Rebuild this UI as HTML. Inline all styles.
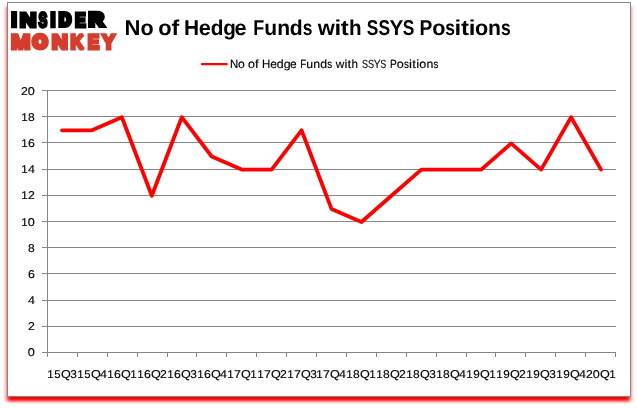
<!DOCTYPE html>
<html lang="en">
<head>
<meta charset="utf-8">
<title>No of Hedge Funds with SSYS Positions</title>
<style>
html,body{margin:0;padding:0;background:#fff;}
body{width:637px;height:408px;overflow:hidden;position:relative;font-family:"Liberation Sans",sans-serif;}
svg{position:absolute;left:0;top:0;}
text{font-family:"Liberation Sans",sans-serif;fill:#000;font-kerning:none;text-rendering:geometricPrecision;stroke:#000;stroke-width:0.15px;}
.t{font-weight:bold;stroke:none;}
.a{stroke-width:0.15px;}
.logo{font-family:"Liberation Sans",sans-serif;font-weight:bold;}
</style>
</head>
<body>
<svg width="637" height="408" viewBox="0 0 637 408">
<defs><filter id="sh" x="-5%" y="-5%" width="110%" height="110%"><feGaussianBlur stdDeviation="2.1 1.50"/></filter></defs>
<rect x="7" y="6.30" width="623.2" height="395" fill="#ff0000" filter="url(#sh)"/>
<rect x="7.5" y="2.5" width="623" height="394" fill="#ffffff" stroke="#858585" stroke-width="1"/>

<g stroke="#868686" stroke-width="1" fill="none" shape-rendering="crispEdges">
<line x1="42.0" y1="352.5" x2="616.0" y2="352.5"/>
<line x1="42.0" y1="326.5" x2="616.0" y2="326.5"/>
<line x1="42.0" y1="300.5" x2="616.0" y2="300.5"/>
<line x1="42.0" y1="273.5" x2="616.0" y2="273.5"/>
<line x1="42.0" y1="247.5" x2="616.0" y2="247.5"/>
<line x1="42.0" y1="221.5" x2="616.0" y2="221.5"/>
<line x1="42.0" y1="195.5" x2="616.0" y2="195.5"/>
<line x1="42.0" y1="169.5" x2="616.0" y2="169.5"/>
<line x1="42.0" y1="142.5" x2="616.0" y2="142.5"/>
<line x1="42.0" y1="116.5" x2="616.0" y2="116.5"/>
<line x1="42.0" y1="90.5" x2="616.0" y2="90.5"/>
<line x1="47.5" y1="90.5" x2="47.5" y2="352.5"/>
<line x1="47.5" y1="352.5" x2="47.5" y2="357.0"/>
<line x1="77.5" y1="352.5" x2="77.5" y2="357.0"/>
<line x1="107.5" y1="352.5" x2="107.5" y2="357.0"/>
<line x1="137.5" y1="352.5" x2="137.5" y2="357.0"/>
<line x1="167.5" y1="352.5" x2="167.5" y2="357.0"/>
<line x1="196.5" y1="352.5" x2="196.5" y2="357.0"/>
<line x1="226.5" y1="352.5" x2="226.5" y2="357.0"/>
<line x1="256.5" y1="352.5" x2="256.5" y2="357.0"/>
<line x1="286.5" y1="352.5" x2="286.5" y2="357.0"/>
<line x1="316.5" y1="352.5" x2="316.5" y2="357.0"/>
<line x1="346.5" y1="352.5" x2="346.5" y2="357.0"/>
<line x1="376.5" y1="352.5" x2="376.5" y2="357.0"/>
<line x1="406.5" y1="352.5" x2="406.5" y2="357.0"/>
<line x1="436.5" y1="352.5" x2="436.5" y2="357.0"/>
<line x1="466.5" y1="352.5" x2="466.5" y2="357.0"/>
<line x1="495.5" y1="352.5" x2="495.5" y2="357.0"/>
<line x1="525.5" y1="352.5" x2="525.5" y2="357.0"/>
<line x1="555.5" y1="352.5" x2="555.5" y2="357.0"/>
<line x1="585.5" y1="352.5" x2="585.5" y2="357.0"/>
<line x1="615.5" y1="352.5" x2="615.5" y2="357.0"/>
</g>
<polyline points="61.97,130.30 91.92,130.30 121.87,117.20 151.82,195.80 181.76,117.20 211.71,156.50 241.66,169.60 271.61,169.60 301.55,130.30 331.50,208.90 361.45,222.00 391.39,195.80 421.34,169.60 451.29,169.60 481.24,169.60 511.18,143.40 541.13,169.60 571.08,117.20 601.03,169.60" fill="none" stroke="#ff0000" stroke-width="3.80" stroke-linejoin="round" stroke-linecap="round"/>
<line x1="201.9" y1="64.2" x2="226.8" y2="64.2" stroke="#ff0000" stroke-width="2.2" stroke-linecap="round"/>
<text  y="67.90" font-size="11.90"><tspan x="229.97" textLength="8.22" lengthAdjust="spacingAndGlyphs">N</tspan><tspan x="238.13" textLength="6.79" lengthAdjust="spacingAndGlyphs">o</tspan> <tspan x="247.97" textLength="6.98" lengthAdjust="spacingAndGlyphs">o</tspan><tspan x="254.97" textLength="3.70" lengthAdjust="spacingAndGlyphs">f</tspan> <tspan x="262.06" textLength="8.29" lengthAdjust="spacingAndGlyphs">H</tspan><tspan x="270.29" textLength="6.64" lengthAdjust="spacingAndGlyphs">e</tspan><tspan x="276.84" textLength="6.83" lengthAdjust="spacingAndGlyphs">d</tspan><tspan x="283.70" textLength="6.88" lengthAdjust="spacingAndGlyphs">g</tspan><tspan x="289.99" textLength="6.64" lengthAdjust="spacingAndGlyphs">e</tspan> <tspan x="300.29" textLength="6.01" lengthAdjust="spacingAndGlyphs">F</tspan><tspan x="306.30" textLength="6.87" lengthAdjust="spacingAndGlyphs">u</tspan><tspan x="313.34" textLength="6.87" lengthAdjust="spacingAndGlyphs">n</tspan><tspan x="320.17" textLength="6.86" lengthAdjust="spacingAndGlyphs">d</tspan><tspan x="327.35" textLength="4.91" lengthAdjust="spacingAndGlyphs">s</tspan> <tspan x="335.72" textLength="8.61" lengthAdjust="spacingAndGlyphs">w</tspan><tspan x="344.42" textLength="2.96" lengthAdjust="spacingAndGlyphs">i</tspan><tspan x="347.52" textLength="3.70" lengthAdjust="spacingAndGlyphs">t</tspan><tspan x="351.58" textLength="6.48" lengthAdjust="spacingAndGlyphs">h</tspan> <tspan x="361.89" textLength="6.00" lengthAdjust="spacingAndGlyphs">S</tspan><tspan x="367.88" textLength="6.00" lengthAdjust="spacingAndGlyphs">S</tspan><tspan x="373.70" textLength="6.80" lengthAdjust="spacingAndGlyphs">Y</tspan><tspan x="380.21" textLength="6.00" lengthAdjust="spacingAndGlyphs">S</tspan> <tspan x="390.06" textLength="6.84" lengthAdjust="spacingAndGlyphs">P</tspan><tspan x="396.72" textLength="7.06" lengthAdjust="spacingAndGlyphs">o</tspan><tspan x="403.91" textLength="4.89" lengthAdjust="spacingAndGlyphs">s</tspan><tspan x="408.93" textLength="2.96" lengthAdjust="spacingAndGlyphs">i</tspan><tspan x="412.23" textLength="3.70" lengthAdjust="spacingAndGlyphs">t</tspan><tspan x="416.38" textLength="2.96" lengthAdjust="spacingAndGlyphs">i</tspan><tspan x="419.33" textLength="7.06" lengthAdjust="spacingAndGlyphs">o</tspan><tspan x="426.43" textLength="6.84" lengthAdjust="spacingAndGlyphs">n</tspan><tspan x="433.46" textLength="4.89" lengthAdjust="spacingAndGlyphs">s</tspan></text>
<text class="t" y="34.70" font-size="21.50"><tspan x="124.62" textLength="15.93" lengthAdjust="spacingAndGlyphs">N</tspan><tspan x="140.39" textLength="13.15" lengthAdjust="spacingAndGlyphs">o</tspan> <tspan x="158.35" textLength="13.34" lengthAdjust="spacingAndGlyphs">o</tspan><tspan x="171.41" textLength="7.74" lengthAdjust="spacingAndGlyphs">f</tspan> <tspan x="183.90" textLength="15.12" lengthAdjust="spacingAndGlyphs">H</tspan><tspan x="198.79" textLength="12.05" lengthAdjust="spacingAndGlyphs">e</tspan><tspan x="210.68" textLength="12.76" lengthAdjust="spacingAndGlyphs">d</tspan><tspan x="223.20" textLength="12.65" lengthAdjust="spacingAndGlyphs">g</tspan><tspan x="234.59" textLength="12.05" lengthAdjust="spacingAndGlyphs">e</tspan> <tspan x="253.29" textLength="11.01" lengthAdjust="spacingAndGlyphs">F</tspan><tspan x="264.18" textLength="12.86" lengthAdjust="spacingAndGlyphs">u</tspan><tspan x="277.17" textLength="12.86" lengthAdjust="spacingAndGlyphs">n</tspan><tspan x="289.84" textLength="12.95" lengthAdjust="spacingAndGlyphs">d</tspan><tspan x="302.83" textLength="9.69" lengthAdjust="spacingAndGlyphs">s</tspan> <tspan x="317.86" textLength="17.10" lengthAdjust="spacingAndGlyphs">w</tspan><tspan x="334.60" textLength="6.69" lengthAdjust="spacingAndGlyphs">i</tspan><tspan x="340.78" textLength="8.02" lengthAdjust="spacingAndGlyphs">t</tspan><tspan x="348.88" textLength="12.60" lengthAdjust="spacingAndGlyphs">h</tspan> <tspan x="366.80" textLength="11.59" lengthAdjust="spacingAndGlyphs">S</tspan><tspan x="378.41" textLength="11.59" lengthAdjust="spacingAndGlyphs">S</tspan><tspan x="389.53" textLength="13.81" lengthAdjust="spacingAndGlyphs">Y</tspan><tspan x="402.79" textLength="11.59" lengthAdjust="spacingAndGlyphs">S</tspan> <tspan x="419.52" textLength="12.80" lengthAdjust="spacingAndGlyphs">P</tspan><tspan x="432.17" textLength="13.19" lengthAdjust="spacingAndGlyphs">o</tspan><tspan x="445.23" textLength="9.74" lengthAdjust="spacingAndGlyphs">s</tspan><tspan x="454.48" textLength="6.69" lengthAdjust="spacingAndGlyphs">i</tspan><tspan x="460.90" textLength="8.02" lengthAdjust="spacingAndGlyphs">t</tspan><tspan x="468.77" textLength="6.69" lengthAdjust="spacingAndGlyphs">i</tspan><tspan x="474.97" textLength="13.19" lengthAdjust="spacingAndGlyphs">o</tspan><tspan x="488.11" textLength="12.93" lengthAdjust="spacingAndGlyphs">n</tspan><tspan x="500.98" textLength="9.74" lengthAdjust="spacingAndGlyphs">s</tspan></text>
<text class="a" y="356.05" font-size="11.30"><tspan x="27.86" textLength="7.04" lengthAdjust="spacingAndGlyphs">0</tspan></text>
<text class="a" y="330.05" font-size="11.30"><tspan x="27.98" textLength="6.83" lengthAdjust="spacingAndGlyphs">2</tspan></text>
<text class="a" y="304.05" font-size="11.30"><tspan x="27.94" textLength="6.96" lengthAdjust="spacingAndGlyphs">4</tspan></text>
<text class="a" y="278.05" font-size="11.30"><tspan x="27.97" textLength="6.87" lengthAdjust="spacingAndGlyphs">6</tspan></text>
<text class="a" y="252.05" font-size="11.30"><tspan x="28.01" textLength="6.74" lengthAdjust="spacingAndGlyphs">8</tspan></text>
<text class="a" y="226.05" font-size="11.30"><tspan x="21.27" textLength="6.46" lengthAdjust="spacingAndGlyphs">1</tspan><tspan x="27.86" textLength="7.04" lengthAdjust="spacingAndGlyphs">0</tspan></text>
<text class="a" y="199.05" font-size="11.30"><tspan x="21.27" textLength="6.46" lengthAdjust="spacingAndGlyphs">1</tspan><tspan x="27.98" textLength="6.83" lengthAdjust="spacingAndGlyphs">2</tspan></text>
<text class="a" y="173.05" font-size="11.30"><tspan x="21.27" textLength="6.46" lengthAdjust="spacingAndGlyphs">1</tspan><tspan x="27.94" textLength="6.96" lengthAdjust="spacingAndGlyphs">4</tspan></text>
<text class="a" y="147.05" font-size="11.30"><tspan x="21.27" textLength="6.46" lengthAdjust="spacingAndGlyphs">1</tspan><tspan x="27.97" textLength="6.87" lengthAdjust="spacingAndGlyphs">6</tspan></text>
<text class="a" y="121.05" font-size="11.30"><tspan x="21.27" textLength="6.46" lengthAdjust="spacingAndGlyphs">1</tspan><tspan x="28.01" textLength="6.74" lengthAdjust="spacingAndGlyphs">8</tspan></text>
<text class="a" y="95.05" font-size="11.30"><tspan x="20.98" textLength="6.83" lengthAdjust="spacingAndGlyphs">2</tspan><tspan x="27.86" textLength="7.04" lengthAdjust="spacingAndGlyphs">0</tspan></text>
<text class="a" y="378.00" font-size="11.30"><tspan x="47.27" textLength="6.46" lengthAdjust="spacingAndGlyphs">1</tspan><tspan x="54.15" textLength="6.29" lengthAdjust="spacingAndGlyphs">5</tspan><tspan x="60.94" textLength="9.84" lengthAdjust="spacingAndGlyphs">Q</tspan><tspan x="70.17" textLength="6.61" lengthAdjust="spacingAndGlyphs">3</tspan></text>
<text class="a" y="378.00" font-size="11.30"><tspan x="77.27" textLength="6.46" lengthAdjust="spacingAndGlyphs">1</tspan><tspan x="84.15" textLength="6.29" lengthAdjust="spacingAndGlyphs">5</tspan><tspan x="90.94" textLength="9.84" lengthAdjust="spacingAndGlyphs">Q</tspan><tspan x="99.94" textLength="6.96" lengthAdjust="spacingAndGlyphs">4</tspan></text>
<text class="a" y="378.00" font-size="11.30"><tspan x="107.27" textLength="6.46" lengthAdjust="spacingAndGlyphs">1</tspan><tspan x="113.97" textLength="6.87" lengthAdjust="spacingAndGlyphs">6</tspan><tspan x="120.94" textLength="9.84" lengthAdjust="spacingAndGlyphs">Q</tspan><tspan x="130.27" textLength="6.46" lengthAdjust="spacingAndGlyphs">1</tspan></text>
<text class="a" y="378.00" font-size="11.30"><tspan x="137.27" textLength="6.46" lengthAdjust="spacingAndGlyphs">1</tspan><tspan x="143.97" textLength="6.87" lengthAdjust="spacingAndGlyphs">6</tspan><tspan x="150.94" textLength="9.84" lengthAdjust="spacingAndGlyphs">Q</tspan><tspan x="159.98" textLength="6.83" lengthAdjust="spacingAndGlyphs">2</tspan></text>
<text class="a" y="378.00" font-size="11.30"><tspan x="167.27" textLength="6.46" lengthAdjust="spacingAndGlyphs">1</tspan><tspan x="173.97" textLength="6.87" lengthAdjust="spacingAndGlyphs">6</tspan><tspan x="180.94" textLength="9.84" lengthAdjust="spacingAndGlyphs">Q</tspan><tspan x="190.17" textLength="6.61" lengthAdjust="spacingAndGlyphs">3</tspan></text>
<text class="a" y="378.00" font-size="11.30"><tspan x="197.27" textLength="6.46" lengthAdjust="spacingAndGlyphs">1</tspan><tspan x="203.97" textLength="6.87" lengthAdjust="spacingAndGlyphs">6</tspan><tspan x="210.94" textLength="9.84" lengthAdjust="spacingAndGlyphs">Q</tspan><tspan x="219.94" textLength="6.96" lengthAdjust="spacingAndGlyphs">4</tspan></text>
<text class="a" y="378.00" font-size="11.30"><tspan x="227.27" textLength="6.46" lengthAdjust="spacingAndGlyphs">1</tspan><tspan x="234.00" textLength="6.96" lengthAdjust="spacingAndGlyphs">7</tspan><tspan x="240.94" textLength="9.84" lengthAdjust="spacingAndGlyphs">Q</tspan><tspan x="250.27" textLength="6.46" lengthAdjust="spacingAndGlyphs">1</tspan></text>
<text class="a" y="378.00" font-size="11.30"><tspan x="257.27" textLength="6.46" lengthAdjust="spacingAndGlyphs">1</tspan><tspan x="264.00" textLength="6.96" lengthAdjust="spacingAndGlyphs">7</tspan><tspan x="270.94" textLength="9.84" lengthAdjust="spacingAndGlyphs">Q</tspan><tspan x="279.98" textLength="6.83" lengthAdjust="spacingAndGlyphs">2</tspan></text>
<text class="a" y="378.00" font-size="11.30"><tspan x="287.27" textLength="6.46" lengthAdjust="spacingAndGlyphs">1</tspan><tspan x="294.00" textLength="6.96" lengthAdjust="spacingAndGlyphs">7</tspan><tspan x="300.94" textLength="9.84" lengthAdjust="spacingAndGlyphs">Q</tspan><tspan x="310.17" textLength="6.61" lengthAdjust="spacingAndGlyphs">3</tspan></text>
<text class="a" y="378.00" font-size="11.30"><tspan x="316.27" textLength="6.46" lengthAdjust="spacingAndGlyphs">1</tspan><tspan x="323.00" textLength="6.96" lengthAdjust="spacingAndGlyphs">7</tspan><tspan x="329.94" textLength="9.84" lengthAdjust="spacingAndGlyphs">Q</tspan><tspan x="338.94" textLength="6.96" lengthAdjust="spacingAndGlyphs">4</tspan></text>
<text class="a" y="378.00" font-size="11.30"><tspan x="346.27" textLength="6.46" lengthAdjust="spacingAndGlyphs">1</tspan><tspan x="353.01" textLength="6.74" lengthAdjust="spacingAndGlyphs">8</tspan><tspan x="359.94" textLength="9.84" lengthAdjust="spacingAndGlyphs">Q</tspan><tspan x="369.27" textLength="6.46" lengthAdjust="spacingAndGlyphs">1</tspan></text>
<text class="a" y="378.00" font-size="11.30"><tspan x="376.27" textLength="6.46" lengthAdjust="spacingAndGlyphs">1</tspan><tspan x="383.01" textLength="6.74" lengthAdjust="spacingAndGlyphs">8</tspan><tspan x="389.94" textLength="9.84" lengthAdjust="spacingAndGlyphs">Q</tspan><tspan x="398.98" textLength="6.83" lengthAdjust="spacingAndGlyphs">2</tspan></text>
<text class="a" y="378.00" font-size="11.30"><tspan x="406.27" textLength="6.46" lengthAdjust="spacingAndGlyphs">1</tspan><tspan x="413.01" textLength="6.74" lengthAdjust="spacingAndGlyphs">8</tspan><tspan x="419.94" textLength="9.84" lengthAdjust="spacingAndGlyphs">Q</tspan><tspan x="429.17" textLength="6.61" lengthAdjust="spacingAndGlyphs">3</tspan></text>
<text class="a" y="378.00" font-size="11.30"><tspan x="436.27" textLength="6.46" lengthAdjust="spacingAndGlyphs">1</tspan><tspan x="443.01" textLength="6.74" lengthAdjust="spacingAndGlyphs">8</tspan><tspan x="449.94" textLength="9.84" lengthAdjust="spacingAndGlyphs">Q</tspan><tspan x="458.94" textLength="6.96" lengthAdjust="spacingAndGlyphs">4</tspan></text>
<text class="a" y="378.00" font-size="11.30"><tspan x="466.27" textLength="6.46" lengthAdjust="spacingAndGlyphs">1</tspan><tspan x="473.30" textLength="6.56" lengthAdjust="spacingAndGlyphs">9</tspan><tspan x="479.94" textLength="9.84" lengthAdjust="spacingAndGlyphs">Q</tspan><tspan x="489.27" textLength="6.46" lengthAdjust="spacingAndGlyphs">1</tspan></text>
<text class="a" y="378.00" font-size="11.30"><tspan x="496.27" textLength="6.46" lengthAdjust="spacingAndGlyphs">1</tspan><tspan x="503.30" textLength="6.56" lengthAdjust="spacingAndGlyphs">9</tspan><tspan x="509.94" textLength="9.84" lengthAdjust="spacingAndGlyphs">Q</tspan><tspan x="518.98" textLength="6.83" lengthAdjust="spacingAndGlyphs">2</tspan></text>
<text class="a" y="378.00" font-size="11.30"><tspan x="526.27" textLength="6.46" lengthAdjust="spacingAndGlyphs">1</tspan><tspan x="533.30" textLength="6.56" lengthAdjust="spacingAndGlyphs">9</tspan><tspan x="539.94" textLength="9.84" lengthAdjust="spacingAndGlyphs">Q</tspan><tspan x="549.17" textLength="6.61" lengthAdjust="spacingAndGlyphs">3</tspan></text>
<text class="a" y="378.00" font-size="11.30"><tspan x="556.27" textLength="6.46" lengthAdjust="spacingAndGlyphs">1</tspan><tspan x="563.30" textLength="6.56" lengthAdjust="spacingAndGlyphs">9</tspan><tspan x="569.94" textLength="9.84" lengthAdjust="spacingAndGlyphs">Q</tspan><tspan x="578.94" textLength="6.96" lengthAdjust="spacingAndGlyphs">4</tspan></text>
<text class="a" y="378.00" font-size="11.30"><tspan x="585.98" textLength="6.83" lengthAdjust="spacingAndGlyphs">2</tspan><tspan x="592.86" textLength="7.04" lengthAdjust="spacingAndGlyphs">0</tspan><tspan x="599.94" textLength="9.84" lengthAdjust="spacingAndGlyphs">Q</tspan><tspan x="609.27" textLength="6.46" lengthAdjust="spacingAndGlyphs">1</tspan></text>
<text class="logo" style="fill:#000000;stroke:#000000;stroke-linejoin:miter;stroke-miterlimit:2.2"><tspan x="10.79" y="26.90" textLength="6.67" lengthAdjust="spacingAndGlyphs" style="font-size:21.51px;stroke-width:2.40px">I</tspan><tspan x="19.87" y="26.50" textLength="16.67" lengthAdjust="spacingAndGlyphs" style="font-size:20.35px;stroke-width:3.20px">N</tspan><tspan x="38.58" y="26.60" textLength="8.78" lengthAdjust="spacingAndGlyphs" style="font-size:20.64px;stroke-width:3.00px">S</tspan><tspan x="49.96" y="26.90" textLength="5.98" lengthAdjust="spacingAndGlyphs" style="font-size:21.51px;stroke-width:2.40px">I</tspan><tspan x="58.94" y="26.00" textLength="12.10" lengthAdjust="spacingAndGlyphs" style="font-size:18.90px;stroke-width:4.20px">D</tspan><tspan x="74.89" y="26.50" textLength="10.77" lengthAdjust="spacingAndGlyphs" style="font-size:20.35px;stroke-width:3.20px">E</tspan><tspan x="88.68" y="26.10" textLength="15.07" lengthAdjust="spacingAndGlyphs" style="font-size:19.19px;stroke-width:4.00px">R</tspan></text>
<text class="logo" style="fill:#d63c2b;stroke:#d63c2b;stroke-linejoin:miter;stroke-miterlimit:2.2"><tspan x="11.12" y="49.10" textLength="19.35" lengthAdjust="spacingAndGlyphs" style="font-size:20.78px;stroke-width:3.00px">M</tspan><tspan x="32.87" y="48.30" textLength="14.58" lengthAdjust="spacingAndGlyphs" style="font-size:18.46px;stroke-width:4.60px">O</tspan><tspan x="51.75" y="49.00" textLength="16.02" lengthAdjust="spacingAndGlyphs" style="font-size:20.49px;stroke-width:3.20px">N</tspan><tspan x="70.60" y="49.00" textLength="13.23" lengthAdjust="spacingAndGlyphs" style="font-size:20.49px;stroke-width:3.20px">K</tspan><tspan x="87.69" y="49.00" textLength="11.44" lengthAdjust="spacingAndGlyphs" style="font-size:20.49px;stroke-width:3.20px">E</tspan><tspan x="102.16" y="49.00" textLength="12.67" lengthAdjust="spacingAndGlyphs" style="font-size:20.49px;stroke-width:3.20px">Y</tspan></text>
</svg>
</body>
</html>
